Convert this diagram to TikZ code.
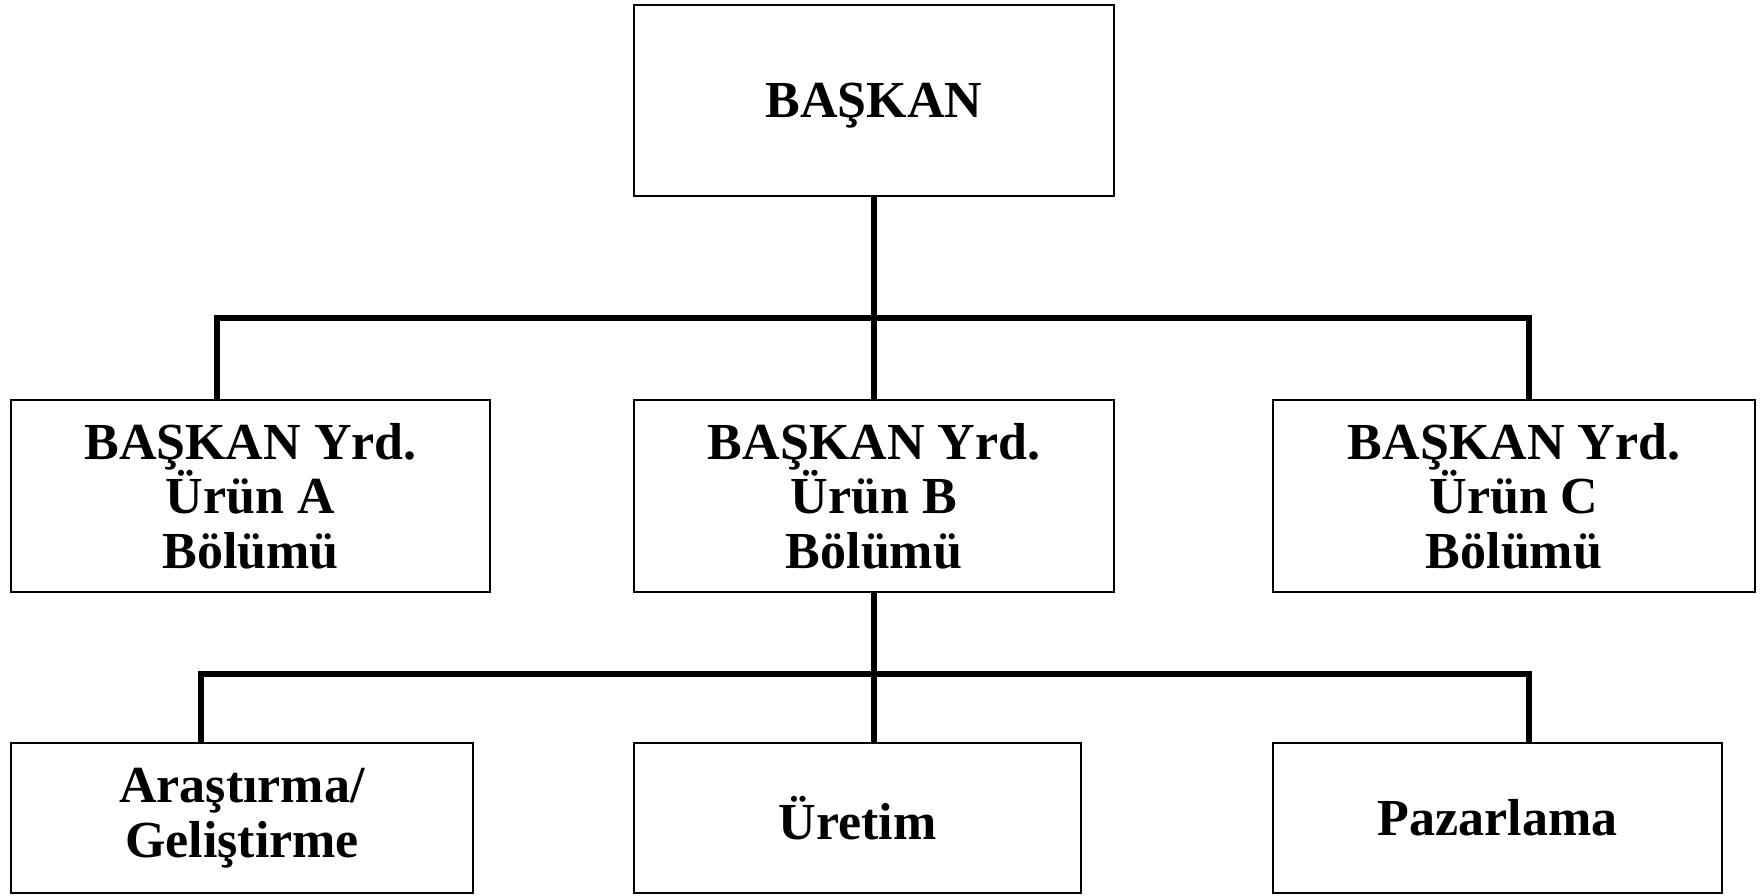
\documentclass[tikz,border=0pt]{standalone}
\usepackage{fontspec}
\setmainfont{Liberation Serif}
\begin{document}
\begin{tikzpicture}[x=0.5pt,y=-0.5pt,
  box/.style={draw,line width=1pt,inner sep=0pt,align=center,
    font=\bfseries\fontsize{26}{27.2}\selectfont},
  conn/.style={line width=2.8pt}]
\useasboundingbox (0,0) rectangle (1762,895);
\node[box,minimum width=240pt,minimum height=95.5pt] (top) at (874,100) {\raisebox{-2.8pt}[\height][\depth]{BAŞKAN}};
\node[box,minimum width=239.5pt,minimum height=96pt] (A) at (250.5,496) {BAŞKAN Yrd.\\Ürün A\\Bölümü};
\node[box,minimum width=240pt,minimum height=96pt] (B) at (874,496) {BAŞKAN Yrd.\\Ürün B\\Bölümü};
\node[box,minimum width=241pt,minimum height=96pt] (C) at (1514,496) {BAŞKAN Yrd.\\Ürün C\\Bölümü};
\node[box,minimum width=231pt,minimum height=75pt] (R1) at (242,818) {Araştırma/\\Geliştirme};
\node[box,minimum width=223.5pt,minimum height=75pt] (R2) at (857.5,818) {Üretim};
\node[box,minimum width=224.5pt,minimum height=75pt] (R3) at (1497.5,818) {Pazarlama};
\coordinate (b1L) at (217,318);
\coordinate (b1R) at (1529,318);
\coordinate (b2L) at (201,674);
\coordinate (b2R) at (1529,674);
\draw[conn] (top.south) -- (B.north);
\draw[conn] (A.north -| b1L) -- (b1L) -- (b1R) -- (C.north -| b1R);
\draw[conn] (B.south) -- (B.south |- R2.north);
\draw[conn] (R1.north -| b2L) -- (b2L) -- (b2R) -- (R3.north -| b2R);
\end{tikzpicture}
\end{document}
